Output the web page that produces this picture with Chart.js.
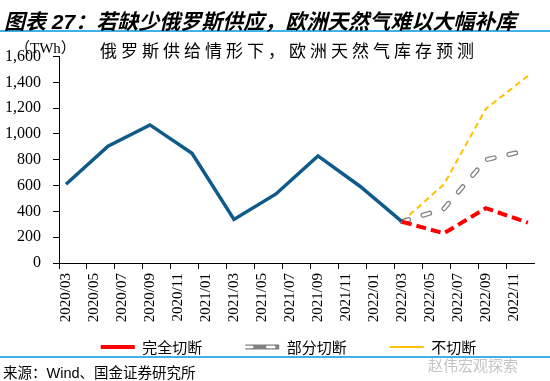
<!DOCTYPE html>
<html>
<head>
<meta charset="utf-8">
<script src="https://cdn.jsdelivr.net/npm/chart.js@4/dist/chart.umd.min.js"></script>
<style>
html,body{margin:0;padding:0;width:550px;height:381px;overflow:hidden;background:#fff;}
#box{position:absolute;left:0;top:0;width:550px;height:391px;}
.t{position:absolute;white-space:nowrap;line-height:1;color:#000;}
#title{left:4px;top:5px;font:italic bold 21px "Liberation Sans","Noto Sans CJK SC";}
#rule1{position:absolute;left:0;top:30px;width:550px;height:2px;background:#3fb0e8;}
#rule2{position:absolute;left:0;top:356px;width:550px;height:2px;background:#3fb0e8;}
#src{left:3px;top:361px;font:14.5px "Liberation Sans","Noto Sans CJK SC";}
#unit{left:15px;top:36px;font:15px "Liberation Serif","Noto Sans CJK SC";}
#sub{left:100px;top:37px;font:17px "Noto Sans CJK SC";letter-spacing:4px;}
#wm{left:428px;top:354px;font:15px "Noto Sans CJK SC";color:#c4c4c4;}
</style>
</head>
<body>
<div id="box"><canvas id="c" width="550" height="391"></canvas></div>
<div id="rule1"></div>
<div id="rule2"></div>
<div class="t" id="title">图表 27：若缺少俄罗斯供应，欧洲天然气难以大幅补库</div>
<div class="t" id="unit">（TWh）</div>
<div class="t" id="sub">俄罗斯供给情形下，欧洲天然气库存预测</div>
<div class="t" id="src">来源：Wind、国金证券研究所</div>
<div class="t" id="wm">赵伟宏观探索</div>
<script>
// ---- data ----
const months = ['2020/03','2020/04','2020/05','2020/06','2020/07','2020/08','2020/09','2020/10','2020/11','2020/12',
  '2021/01','2021/02','2021/03','2021/04','2021/05','2021/06','2021/07','2021/08','2021/09','2021/10','2021/11','2021/12',
  '2022/01','2022/02','2022/03','2022/04','2022/05','2022/06','2022/07','2022/08','2022/09','2022/10','2022/11','2022/12'];
const histDates = ['2020/03','2020/06','2020/09','2020/12','2021/03','2021/06','2021/09','2021/12','2022/03'];
const histValues = [610, 905, 1070, 850, 338, 535, 830, 595, 320];
const fcDates = ['2022/03','2022/06','2022/09','2022/12'];
const fullCut = [320, 230, 425, 312];
const partialCut = [320, 420, 800, 875];
const noCut = [320, 610, 1195, 1450];
const seriesNames = ['完全切断','部分切断','不切断'];

const toXY = (xs, ys) => xs.map((x, i) => ({x: x, y: ys[i]}));

const LEGEND_CX = 288.5;
const LEGEND_TOP = 296.5;
const GREY_DASH = [7, 15];

const legendShift = {
  id: 'legendShift',
  afterLayout(chart) {
    const lg = chart.legend;
    if (!lg) return;
    const dx = LEGEND_CX - (lg.left + lg.right) / 2;
    const dy = LEGEND_TOP - lg.top;
    lg.left += dx; lg.right += dx; lg.top += dy; lg.bottom += dy;
  },
  afterDraw(chart) {
    const lg = chart.legend;
    if (!lg || !lg.legendHitBoxes || !lg.legendHitBoxes[1]) return;
    const h = lg.legendHitBoxes[1];
    const bw = lg.options.labels.pointStyleWidth;
    const y = h.top + lg.options.labels.font.size / 2;
    const c = chart.ctx;
    c.save();
    c.strokeStyle = '#ffffff';
    c.lineWidth = 2.5;
    c.lineCap = 'round';
    c.setLineDash(GREY_DASH);
    c.beginPath();
    c.moveTo(h.left, y);
    c.lineTo(h.left + bw, y);
    c.stroke();
    c.restore();
  }
};

new Chart(document.getElementById('c'), {
  type: 'line',
  data: {
    labels: months,
    datasets: [
      {label: seriesNames[0], data: toXY(fcDates, fullCut), borderColor: '#ff0000', borderWidth: 4, borderDash: [10, 5], order: 0},
      {label: seriesNames[1], data: toXY(fcDates, partialCut), borderColor: '#808080', borderWidth: 5, borderDash: GREY_DASH, borderCapStyle: 'round', order: 3},
      {label: seriesNames[2], data: toXY(fcDates, noCut), borderColor: '#ffc000', borderWidth: 2, borderDash: [6, 4], order: 4},
      {label: '库存', data: toXY(histDates, histValues), borderColor: '#0e5a8a', borderWidth: 3.5, order: 1},
      {label: 'inner', data: toXY(fcDates, partialCut), borderColor: '#ffffff', borderWidth: 2.5, borderDash: GREY_DASH, borderCapStyle: 'round', order: 2}
    ]
  },
  options: {
    responsive: false,
    animation: false,
    devicePixelRatio: 1,
    layout: {padding: {left: 0, right: 5, top: 56.5, bottom: 0}},
    elements: {point: {radius: 0, hoverRadius: 0}, line: {tension: 0, fill: false}},
    events: [],
    plugins: {
      tooltip: {enabled: false},
      title: {display: false},
      legend: {
        position: 'bottom',
        labels: {
          usePointStyle: true,
          pointStyle: 'line',
          pointStyleWidth: 34,
          padding: 43,
          color: '#000',
          font: {family: '"Noto Sans CJK SC"', size: 15},
          filter: item => item.datasetIndex < 3,
          sort: (a, b) => a.datasetIndex - b.datasetIndex
        }
      }
    },
    scales: {
      x: {
        type: 'category',
        offset: true,
        grid: {offset: true, drawOnChartArea: false, tickLength: 6,
               color: c => (c.index % 2 === 0 ? '#000' : 'rgba(0,0,0,0)')},
        border: {color: '#000', width: 1},
        ticks: {
          autoSkip: false, maxRotation: 90, minRotation: 90, padding: 4, color: '#000',
          font: {family: '"Liberation Serif"', size: 15},
          callback: (v, i) => (i % 2 === 0 ? months[i] : '')
        },
        afterFit: s => { s.height = 60; }
      },
      y: {
        min: 0, max: 1600,
        ticks: {stepSize: 200, padding: 12, color: '#000', font: {family: '"Liberation Serif"', size: 16}},
        grid: {drawOnChartArea: false, tickLength: 6, color: '#000'},
        border: {color: '#000', width: 1},
        afterFit: s => { s.width = 59; }
      }
    }
  },
  plugins: [legendShift]
});
</script>
</body>
</html>
